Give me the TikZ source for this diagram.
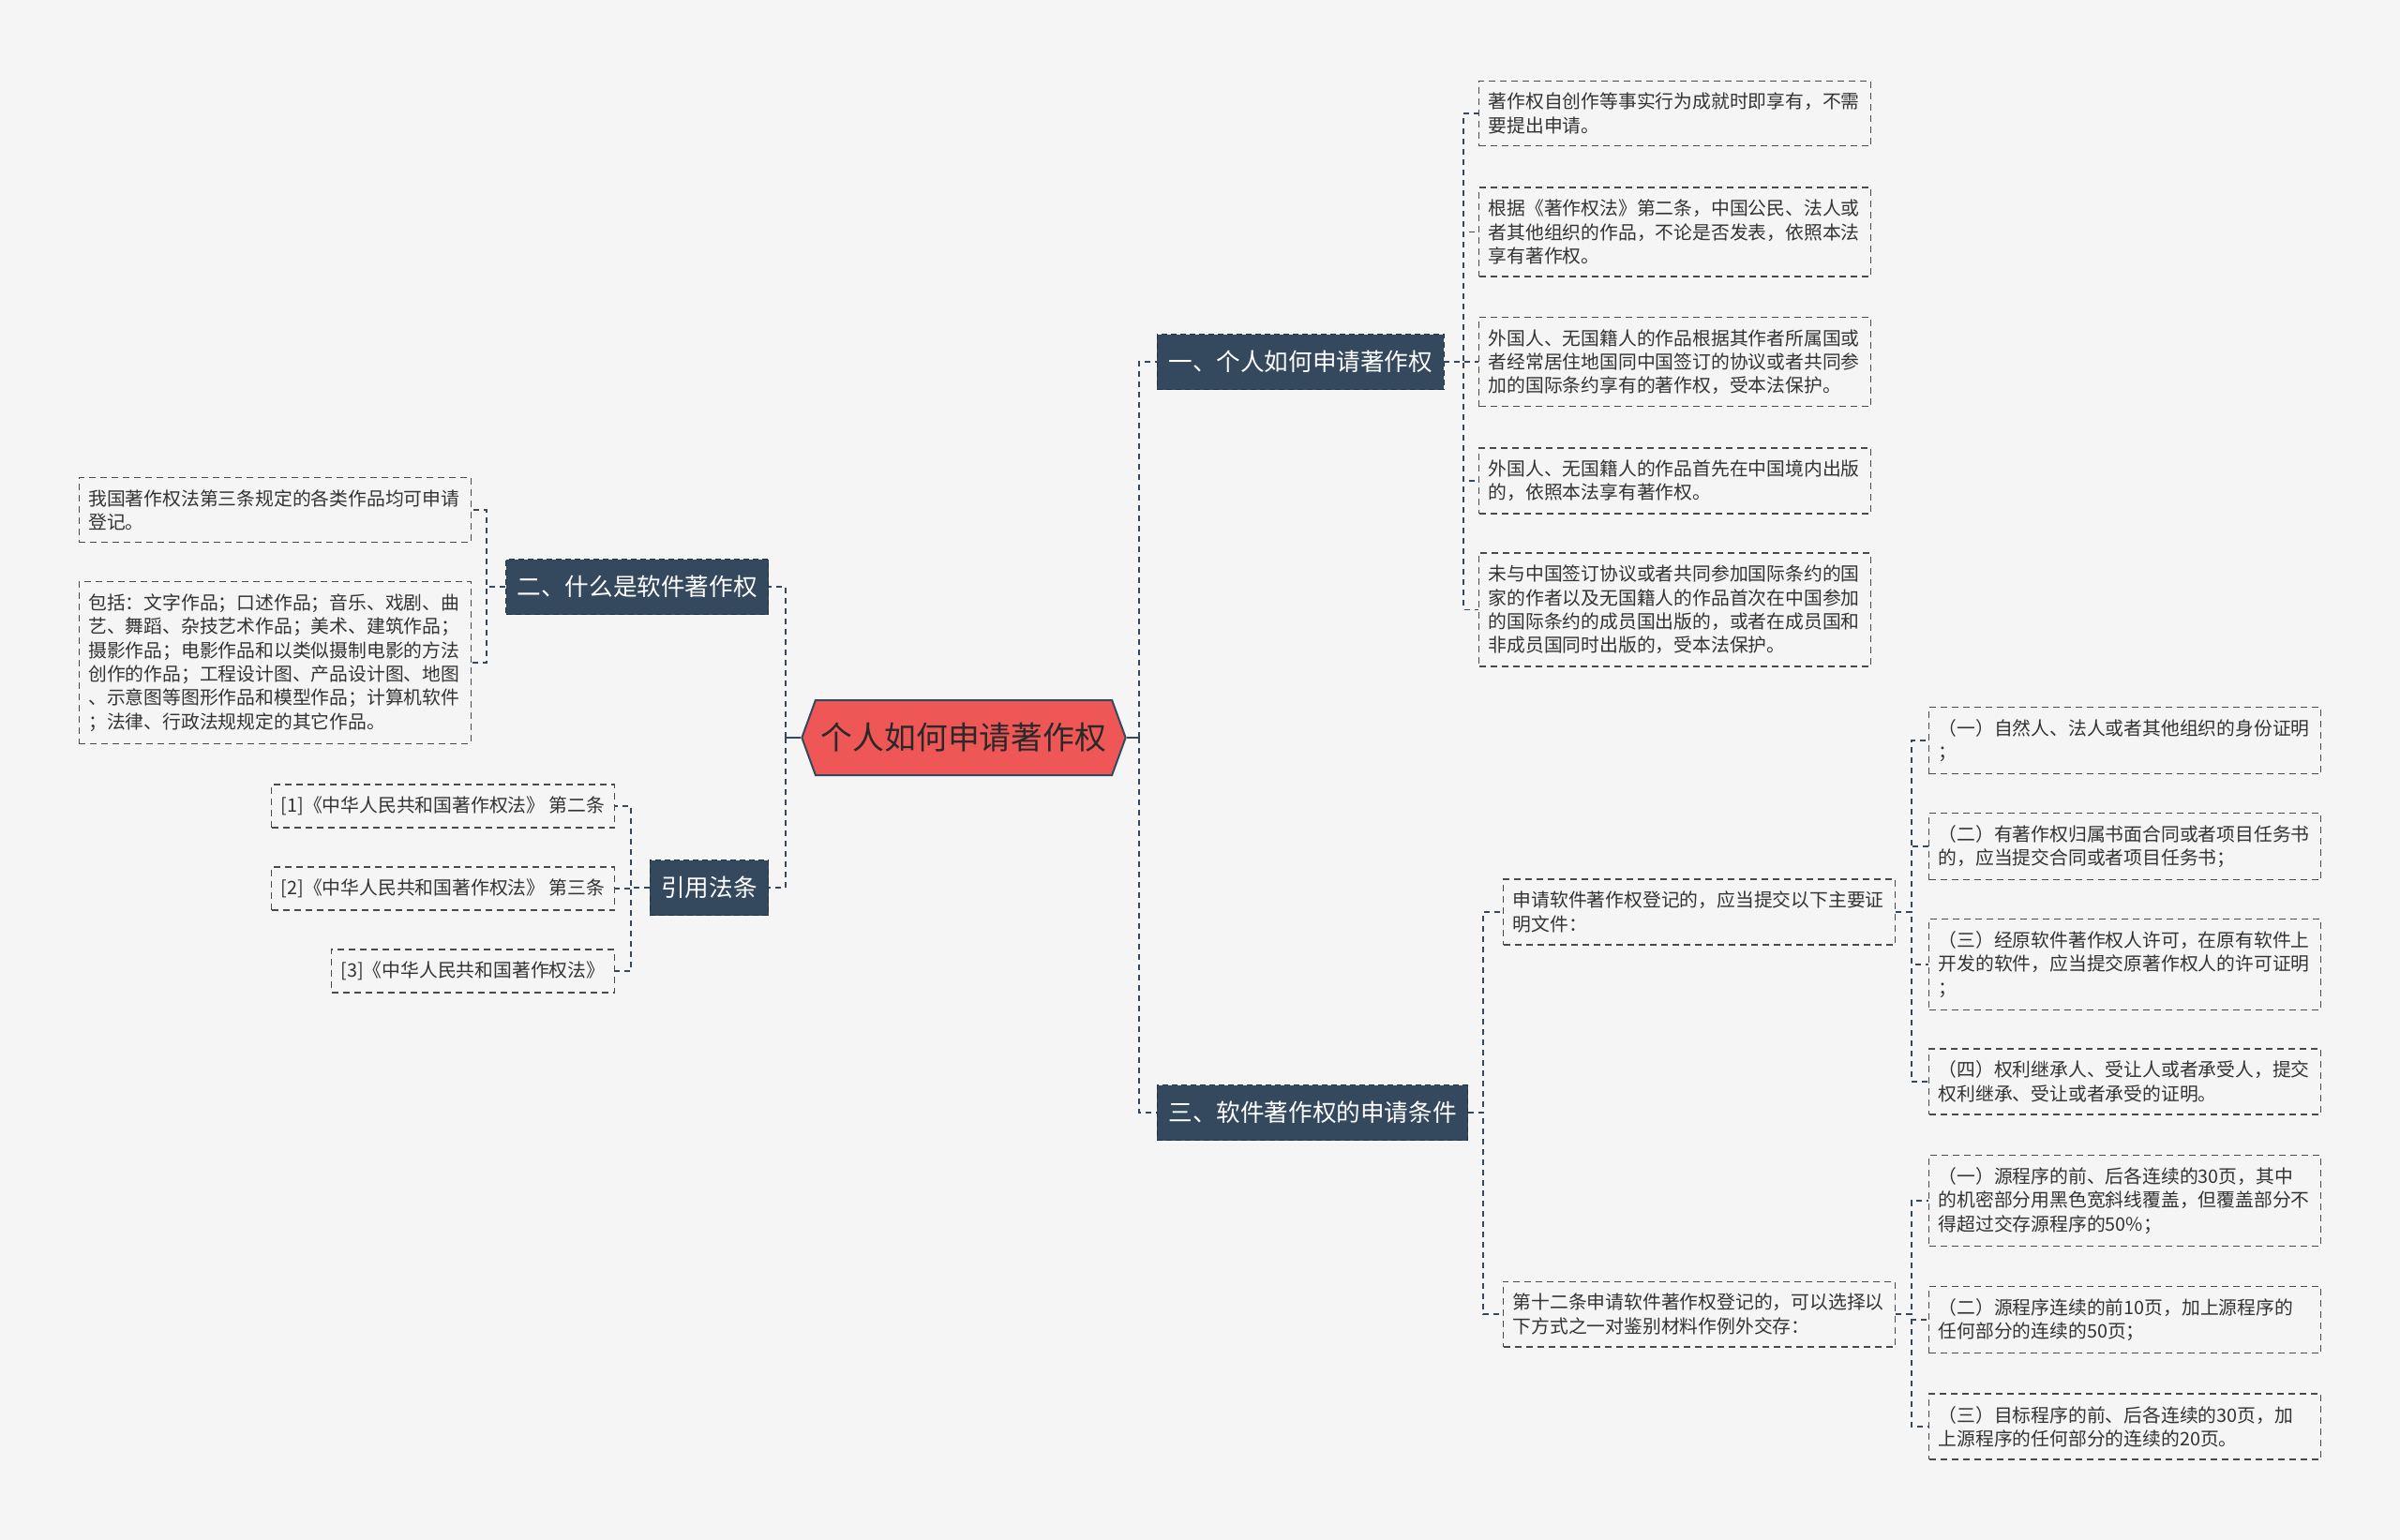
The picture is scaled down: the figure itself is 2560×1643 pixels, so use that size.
\documentclass[tikz,border=0pt]{standalone}
\usepackage{fontspec}
\setmainfont{Noto Sans CJK SC}
\usetikzlibrary{shapes.symbols}
\definecolor{bg}{HTML}{F5F5F5}
\definecolor{topic}{HTML}{EF5757}
\definecolor{navy}{HTML}{34495E}
\definecolor{ink}{HTML}{333333}
\definecolor{rim}{HTML}{4A4A4A}
\tikzset{note/.style={draw=rim,dash pattern=on 3.5pt off 2.5pt,line width=0.65pt,align=left,inner xsep=5pt,inner ysep=6.5pt,text=ink,font=\fontsize{9.9}{12.65}\selectfont},leaf/.style={note,text width=199pt},link/.style={draw=navy,line width=0.65pt,dash pattern=on 3pt off 2.5pt},trunk/.style={draw=navy,line width=1pt}}

\begin{document}
\begin{tikzpicture}[x=0.5pt,y=-0.5pt,branch/.style={draw=navy!70!black,dash pattern=on 3pt off 2pt,fill=navy,text=white,font=\fontsize{12.8}{14}\selectfont,inner xsep=6pt,inner ysep=7pt,minimum height=29.5pt},root/.style={signal,signal to=west and east,signal pointer angle=140,fill=topic,draw=navy,line width=1pt,minimum width=167.5pt,minimum height=40pt,inner xsep=3pt,text=ink!80!black,font=\fontsize{16.9}{19}\selectfont}]
\fill[bg] (0,0) rectangle (2560,1643);
\node[root] (root) at (1028,787) {个人如何申请著作权};
\node[branch,anchor=west] (b1) at (1234,386) {一、个人如何申请著作权};
\node[branch,anchor=west] (b3) at (1234,1187) {三、软件著作权的申请条件};
\node[branch,anchor=east] (b2) at (820,626) {二、什么是软件著作权};
\node[branch,anchor=east] (b4) at (820,947) {引用法条};
\node[leaf,anchor=west] (l1a) at (1577,121) {著作权自创作等事实行为成就时即享有，不需\\要提出申请。};
\node[leaf,anchor=west] (l1b) at (1577,247.5) {根据《著作权法》第二条，中国公民、法人或\\者其他组织的作品，不论是否发表，依照本法\\享有著作权。};
\node[leaf,anchor=west] (l1c) at (1577,386) {外国人、无国籍人的作品根据其作者所属国或\\者经常居住地国同中国签订的协议或者共同参\\加的国际条约享有的著作权，受本法保护。};
\node[leaf,anchor=west] (l1d) at (1577,513) {外国人、无国籍人的作品首先在中国境内出版\\的，依照本法享有著作权。};
\node[leaf,anchor=west] (l1e) at (1577,650.5) {未与中国签订协议或者共同参加国际条约的国\\家的作者以及无国籍人的作品首次在中国参加\\的国际条约的成员国出版的，或者在成员国和\\非成员国同时出版的，受本法保护。};
\node[leaf,anchor=west] (m1) at (1603,973) {申请软件著作权登记的，应当提交以下主要证\\明文件：};
\node[leaf,anchor=west] (m2) at (1603,1402) {第十二条申请软件著作权登记的，可以选择以\\下方式之一对鉴别材料作例外交存：};
\node[leaf,anchor=west] (n1) at (2057,790) {（一）自然人、法人或者其他组织的身份证明\\；};
\node[leaf,anchor=west] (n2) at (2057,903) {（二）有著作权归属书面合同或者项目任务书\\的，应当提交合同或者项目任务书；};
\node[leaf,anchor=west] (n3) at (2057,1029) {（三）经原软件著作权人许可，在原有软件上\\开发的软件，应当提交原著作权人的许可证明\\；};
\node[leaf,anchor=west] (n4) at (2057,1154) {（四）权利继承人、受让人或者承受人，提交\\权利继承、受让或者承受的证明。};
\node[leaf,anchor=west] (p1) at (2057,1281) {（一）源程序的前、后各连续的30页，其中\\的机密部分用黑色宽斜线覆盖，但覆盖部分不\\得超过交存源程序的50\%；};
\node[leaf,anchor=west] (p2) at (2057,1408) {（二）源程序连续的前10页，加上源程序的\\任何部分的连续的50页；};
\node[leaf,anchor=west] (p3) at (2057,1522) {（三）目标程序的前、后各连续的30页，加\\上源程序的任何部分的连续的20页。};
\node[leaf,anchor=east] (a1) at (503,544) {我国著作权法第三条规定的各类作品均可申请\\登记。};
\node[leaf,anchor=east] (a2) at (503,707) {包括：文字作品；口述作品；音乐、戏剧、曲\\艺、舞蹈、杂技艺术作品；美术、建筑作品；\\摄影作品；电影作品和以类似摄制电影的方法\\创作的作品；工程设计图、产品设计图、地图\\、示意图等图形作品和模型作品；计算机软件\\；法律、行政法规规定的其它作品。};
\node[note,anchor=east] (r1) at (656,860) {[1]《中华人民共和国著作权法》 第二条};
\node[note,anchor=east] (r2) at (656,948) {[2]《中华人民共和国著作权法》 第三条};
\node[note,anchor=east] (r3) at (656,1036) {[3]《中华人民共和国著作权法》};
\coordinate (jr) at (1215,787);
\coordinate (jl) at (838,787);
\coordinate (j1) at (1561,386);
\coordinate (j3) at (1582,1187);
\coordinate (jm1) at (2039,973);
\coordinate (jm2) at (2039,1402);
\coordinate (j2) at (519,626);
\coordinate (j4) at (673,947);
\draw[trunk] (root.east) -- (jr);
\draw[trunk] (root.west) -- (jl);
\foreach \b in {b1,b3}{\draw[link,line width=1pt] (jr) |- (\b.west);}
\foreach \b in {b2,b4}{\draw[link,line width=1pt] (jl) |- (\b.east);}
\foreach \p/\j/\c in {b1/j1/l1a,b1/j1/l1b,b1/j1/l1c,b1/j1/l1d,b1/j1/l1e,b3/j3/m1,b3/j3/m2,m1/jm1/n1,m1/jm1/n2,m1/jm1/n3,m1/jm1/n4,m2/jm2/p1,m2/jm2/p2,m2/jm2/p3}{\draw[link] (\p.east) -- (\j) |- (\c.west);}
\foreach \p/\j/\c in {b2/j2/a1,b2/j2/a2,b4/j4/r1,b4/j4/r2,b4/j4/r3}{\draw[link] (\p.west) -- (\j) |- (\c.east);}
\end{tikzpicture}
\end{document}
